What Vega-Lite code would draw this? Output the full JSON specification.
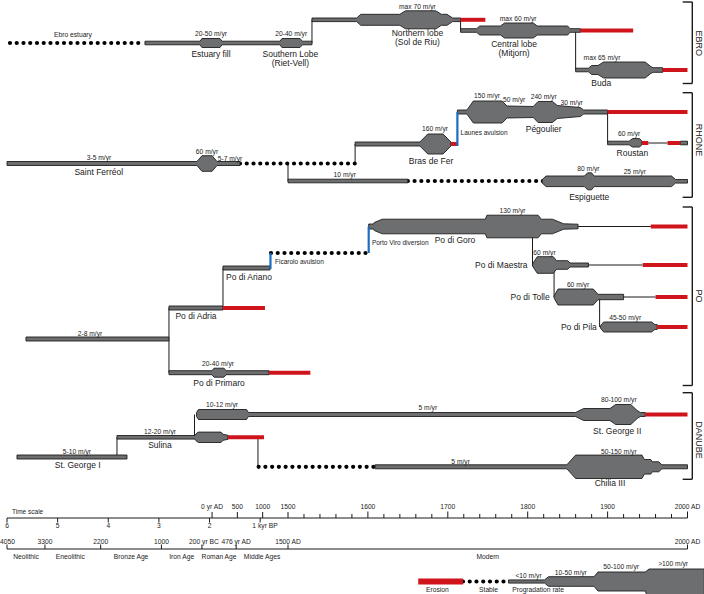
{
"$schema": "https://vega.github.io/schema/vega-lite/v6.json",
"width": 704, "height": 594, "padding": 0, "autosize": {"type": "none"},
"background": "#ffffff",
"config": {"view": {"stroke": null}, "text": {"font": "Liberation Sans", "color": "#1a1a1a"}},
"datasets": {
"vlines": [
{"yr":1530,"y":20,"y2":43},{"yr":1716,"y":20,"y2":30.5},{"yr":1860,"y":30.5,"y2":70},
{"yr":1500,"y":163.5,"y2":181},{"yr":1584,"y":144,"y2":163.5},{"yr":1900,"y":112,"y2":143},
{"yr":-851,"y":308,"y2":372.7},{"yr":216,"y":268,"y2":308},{"yr":1806,"y":226.5,"y2":265},{"yr":1833,"y":265,"y2":297},{"yr":1890,"y":297,"y2":327},
{"yr":-1878,"y":437.3,"y2":457},{"yr":-347,"y":414.5,"y2":437.3},{"yr":907,"y":437.3,"y2":466.8},
{"yr":0,"y":512,"y2":518},{"yr":500,"y":512,"y2":518},{"yr":1000,"y":512,"y2":518},{"yr":1500,"y":512,"y2":518},{"yr":1600,"y":511.5,"y2":518},{"yr":1700,"y":511.5,"y2":518},{"yr":1800,"y":511.5,"y2":518},{"yr":1900,"y":511.5,"y2":518},{"yr":2000,"y":511.5,"y2":518},
{"yr":1520,"y":514,"y2":518},{"yr":1540,"y":514,"y2":518},{"yr":1560,"y":514,"y2":518},{"yr":1580,"y":514,"y2":518},{"yr":1620,"y":514,"y2":518},{"yr":1640,"y":514,"y2":518},{"yr":1660,"y":514,"y2":518},{"yr":1680,"y":514,"y2":518},{"yr":1720,"y":514,"y2":518},{"yr":1740,"y":514,"y2":518},{"yr":1760,"y":514,"y2":518},{"yr":1780,"y":514,"y2":518},{"yr":1820,"y":514,"y2":518},{"yr":1840,"y":514,"y2":518},{"yr":1860,"y":514,"y2":518},{"yr":1880,"y":514,"y2":518},{"yr":1920,"y":514,"y2":518},{"yr":1940,"y":514,"y2":518},{"yr":1960,"y":514,"y2":518},{"yr":1980,"y":514,"y2":518},
{"yr":-4050,"y":518,"y2":522.5},{"yr":-3050,"y":518,"y2":522.5},{"yr":-2050,"y":518,"y2":522.5},{"yr":-1050,"y":518,"y2":522.5},{"yr":-50,"y":518,"y2":522.5},{"yr":950,"y":518,"y2":522.5},
{"yr":-4050,"y":544.5,"y2":549},{"yr":-3300,"y":544.5,"y2":549},{"yr":-2200,"y":544.5,"y2":549},{"yr":-1000,"y":544.5,"y2":549},{"yr":-200,"y":544.5,"y2":549},{"yr":476,"y":544.5,"y2":549},{"yr":1500,"y":544.5,"y2":549},{"yr":2000,"y":544.5,"y2":549}
],
"hlines": [
{"yr":1951,"yr2":1975,"y":143},{"yr":1863,"yr2":1954,"y":226.5},{"yr":1876,"yr2":1944,"y":265},{"yr":1920,"yr2":1960,"y":297},
{"yr":-4050,"yr2":2000,"y":518},{"yr":-4050,"yr2":2000,"y":549}
],
"brackets": [
{"yr":2006,"yr2":2006,"y":2,"y2":83.5},{"yr":1994,"yr2":2006,"y":2,"y2":2},{"yr":1994,"yr2":2006,"y":83.5,"y2":83.5},
{"yr":2006,"yr2":2006,"y":92.7,"y2":197.3},{"yr":1994,"yr2":2006,"y":92.7,"y2":92.7},{"yr":1994,"yr2":2006,"y":197.3,"y2":197.3},
{"yr":2006,"yr2":2006,"y":207,"y2":385.5},{"yr":1994,"yr2":2006,"y":207,"y2":207},{"yr":1994,"yr2":2006,"y":385.5,"y2":385.5},
{"yr":2006,"yr2":2006,"y":392.7,"y2":479.3},{"yr":1994,"yr2":2006,"y":392.7,"y2":392.7},{"yr":1994,"yr2":2006,"y":479.3,"y2":479.3}
],
"stable": [
{"yr":-3991,"yr2":-1325,"y":43},{"yr":552,"yr2":1584,"y":163.5},{"yr":1650,"yr2":1820,"y":181},{"yr":1164,"yr2":1598,"y":253},{"yr":920,"yr2":1609,"y":466.8},{"yr":1719,"yr2":1776,"y":581.5}
],
"lobes": [
{"id":"E1","yr":-1325,"y":41.2,"y2":44.8},{"id":"E1","yr":-238,"y":41.2,"y2":44.8},{"id":"E1","yr":-199,"y":38.5,"y2":47.5},{"id":"E1","yr":157,"y":38.5,"y2":47.5},{"id":"E1","yr":196,"y":41.2,"y2":44.8},{"id":"E1","yr":1342,"y":41.2,"y2":44.8},{"id":"E1","yr":1381,"y":38.5,"y2":47.5},{"id":"E1","yr":1515,"y":38.5,"y2":47.5},{"id":"E1","yr":1518,"y":41.2,"y2":44.8},{"id":"E1","yr":1530,"y":41.2,"y2":44.8},
{"id":"E2","yr":1530,"y":18,"y2":21.6},{"id":"E2","yr":1586,"y":18,"y2":21.6},{"id":"E2","yr":1591,"y":14.3,"y2":25.3},{"id":"E2","yr":1640,"y":14.3,"y2":25.3},{"id":"E2","yr":1647,"y":10.8,"y2":28.8},{"id":"E2","yr":1685,"y":10.8,"y2":28.8},{"id":"E2","yr":1692,"y":14.3,"y2":25.3},{"id":"E2","yr":1699,"y":14.3,"y2":25.3},{"id":"E2","yr":1706,"y":18,"y2":21.6},{"id":"E2","yr":1716,"y":18,"y2":21.6},
{"id":"E3","yr":1716,"y":28.7,"y2":32.3},{"id":"E3","yr":1736,"y":28.7,"y2":32.3},{"id":"E3","yr":1740,"y":26,"y2":35},{"id":"E3","yr":1766,"y":26,"y2":35},{"id":"E3","yr":1771,"y":23,"y2":38},{"id":"E3","yr":1807,"y":23,"y2":38},{"id":"E3","yr":1812,"y":26,"y2":35},{"id":"E3","yr":1850,"y":26,"y2":35},{"id":"E3","yr":1853,"y":28.7,"y2":32.3},{"id":"E3","yr":1866,"y":28.7,"y2":32.3},
{"id":"E4","yr":1860,"y":68.2,"y2":71.8},{"id":"E4","yr":1876,"y":68.2,"y2":71.8},{"id":"E4","yr":1880,"y":65.5,"y2":74.5},{"id":"E4","yr":1888,"y":65.5,"y2":74.5},{"id":"E4","yr":1895,"y":62,"y2":78},{"id":"E4","yr":1947,"y":62,"y2":78},{"id":"E4","yr":1954,"y":66.5,"y2":73.5},{"id":"E4","yr":1957,"y":67.7,"y2":72.3},{"id":"E4","yr":1969,"y":67.7,"y2":72.3},
{"id":"R1","yr":-4050,"y":161.5,"y2":165.5},{"id":"R1","yr":-298,"y":161.5,"y2":165.5},{"id":"R1","yr":-199,"y":155.7,"y2":171.3},{"id":"R1","yr":0,"y":155.7,"y2":171.3},{"id":"R1","yr":98,"y":161.5,"y2":165.5},{"id":"R1","yr":552,"y":161.5,"y2":165.5},
{"id":"R2","yr":1500,"y":179.2,"y2":182.8},{"id":"R2","yr":1650,"y":179.2,"y2":182.8},
{"id":"R2b","yr":1818,"y":179.7,"y2":182.9},{"id":"R2b","yr":1823,"y":176,"y2":186.6},{"id":"R2b","yr":1871,"y":176,"y2":186.6},{"id":"R2b","yr":1875,"y":172.8,"y2":189.8},{"id":"R2b","yr":1880,"y":172.8,"y2":189.8},{"id":"R2b","yr":1883,"y":176,"y2":186.6},{"id":"R2b","yr":1980,"y":176,"y2":186.6},{"id":"R2b","yr":1985,"y":179.5,"y2":183.1},{"id":"R2b","yr":2000,"y":179.5,"y2":183.1},
{"id":"R3","yr":1584,"y":142,"y2":146},{"id":"R3","yr":1665,"y":142,"y2":146},{"id":"R3","yr":1675,"y":134,"y2":154},{"id":"R3","yr":1694,"y":134,"y2":154},{"id":"R3","yr":1704,"y":142,"y2":146},
{"id":"R4","yr":1712,"y":110,"y2":114},{"id":"R4","yr":1724,"y":110,"y2":114},{"id":"R4","yr":1732,"y":101,"y2":123},{"id":"R4","yr":1768,"y":101,"y2":123},{"id":"R4","yr":1774,"y":106,"y2":118},{"id":"R4","yr":1807,"y":106.5,"y2":117.5},{"id":"R4","yr":1813,"y":101.5,"y2":122.5},{"id":"R4","yr":1831,"y":101.5,"y2":122.5},{"id":"R4","yr":1837,"y":105.5,"y2":118.5},{"id":"R4","yr":1866,"y":107.5,"y2":116.5},{"id":"R4","yr":1870,"y":110,"y2":114},{"id":"R4","yr":1900,"y":110,"y2":114},
{"id":"R5","yr":1900,"y":141.2,"y2":144.8},{"id":"R5","yr":1927,"y":141.2,"y2":144.8},{"id":"R5","yr":1931,"y":138.6,"y2":147},{"id":"R5","yr":1940,"y":138.6,"y2":147},{"id":"R5","yr":1943,"y":141.2,"y2":144.8},
{"id":"R5b","yr":1991,"y":141.2,"y2":144.8},{"id":"R5b","yr":2000,"y":141.2,"y2":144.8},
{"id":"P1","yr":-3675,"y":337,"y2":341},{"id":"P1","yr":-851,"y":337,"y2":341},
{"id":"P2","yr":-851,"y":306,"y2":310},{"id":"P2","yr":216,"y":306,"y2":310},
{"id":"P3","yr":216,"y":266,"y2":270},{"id":"P3","yr":1144,"y":266,"y2":270},
{"id":"P4","yr":-851,"y":370.7,"y2":374.7},{"id":"P4","yr":0,"y":370.7,"y2":374.7},{"id":"P4","yr":39,"y":368.2,"y2":377.2},{"id":"P4","yr":236,"y":368.2,"y2":377.2},{"id":"P4","yr":275,"y":370.7,"y2":374.7},{"id":"P4","yr":1124,"y":370.7,"y2":374.7},
{"id":"P5","yr":1601,"y":224,"y2":229},{"id":"P5","yr":1607,"y":224,"y2":229},{"id":"P5","yr":1608,"y":222.5,"y2":230.5},{"id":"P5","yr":1618,"y":219.2,"y2":233.8},{"id":"P5","yr":1747,"y":219.2,"y2":233.8},{"id":"P5","yr":1749,"y":215.2,"y2":237.8},{"id":"P5","yr":1813,"y":215.2,"y2":237.8},{"id":"P5","yr":1817,"y":219.2,"y2":233.8},{"id":"P5","yr":1831,"y":219.2,"y2":233.8},{"id":"P5","yr":1845,"y":223.8,"y2":229.2},{"id":"P5","yr":1863,"y":224.2,"y2":228.8},
{"id":"P6","yr":1806,"y":264,"y2":266},{"id":"P6","yr":1812,"y":256.7,"y2":273.3},{"id":"P6","yr":1832,"y":256.7,"y2":273.3},{"id":"P6","yr":1836,"y":260.7,"y2":269.3},{"id":"P6","yr":1850,"y":260.7,"y2":269.3},{"id":"P6","yr":1853,"y":263,"y2":267},{"id":"P6","yr":1876,"y":263,"y2":267},
{"id":"P7","yr":1833,"y":296,"y2":298},{"id":"P7","yr":1838,"y":289,"y2":305},{"id":"P7","yr":1882,"y":289,"y2":305},{"id":"P7","yr":1888,"y":294.3,"y2":299.7},{"id":"P7","yr":1920,"y":294.3,"y2":299.7},
{"id":"P8","yr":1891,"y":326,"y2":328},{"id":"P8","yr":1895,"y":322,"y2":332},{"id":"P8","yr":1955,"y":322,"y2":332},{"id":"P8","yr":1959,"y":324.5,"y2":329.5},{"id":"P8","yr":1962,"y":324.5,"y2":329.5},
{"id":"D1","yr":-3853,"y":455,"y2":459},{"id":"D1","yr":-1680,"y":455,"y2":459},
{"id":"D2","yr":-1878,"y":435.5,"y2":439.1},{"id":"D2","yr":-337,"y":435.5,"y2":439.1},{"id":"D2","yr":-307,"y":433.3,"y2":441.3},{"id":"D2","yr":-268,"y":432.1,"y2":442.5},{"id":"D2","yr":177,"y":432.1,"y2":442.5},{"id":"D2","yr":216,"y":434.3,"y2":440.3},{"id":"D2","yr":315,"y":435.3,"y2":439.3},
{"id":"D3","yr":-307,"y":412.5,"y2":416.5},{"id":"D3","yr":-268,"y":409.5,"y2":419.5},{"id":"D3","yr":680,"y":409.5,"y2":419.5},{"id":"D3","yr":720,"y":412.5,"y2":416.5},{"id":"D3","yr":1860,"y":412.5,"y2":416.5},{"id":"D3","yr":1870,"y":408.5,"y2":420.5},{"id":"D3","yr":1903,"y":408.5,"y2":420.5},{"id":"D3","yr":1910,"y":404.5,"y2":424.5},{"id":"D3","yr":1929,"y":404.5,"y2":424.5},{"id":"D3","yr":1937,"y":410.5,"y2":418.5},{"id":"D3","yr":1941,"y":412.5,"y2":416.5},{"id":"D3","yr":1947,"y":412.5,"y2":416.5},
{"id":"D4","yr":1609,"y":464.8,"y2":468.8},{"id":"D4","yr":1849,"y":464.8,"y2":468.8},{"id":"D4","yr":1860,"y":455.1,"y2":478.5},{"id":"D4","yr":1943,"y":455.1,"y2":478.5},{"id":"D4","yr":1946,"y":459.5,"y2":474.1},{"id":"D4","yr":1954,"y":459.5,"y2":474.1},{"id":"D4","yr":1956,"y":461.8,"y2":471.8},{"id":"D4","yr":1964,"y":461.8,"y2":471.8},{"id":"D4","yr":1968,"y":464.8,"y2":468.8},{"id":"D4","yr":2000,"y":464.8,"y2":468.8},
{"id":"LG","yr":1776,"y":579.9,"y2":583.1},{"id":"LG","yr":1821,"y":579.9,"y2":583.1},{"id":"LG","yr":1826,"y":576.7,"y2":586.3},{"id":"LG","yr":1883,"y":576.7,"y2":586.3},{"id":"LG","yr":1888,"y":572,"y2":591},{"id":"LG","yr":1947,"y":572,"y2":591},{"id":"LG","yr":1952,"y":569,"y2":600},{"id":"LG","yr":2021,"y":569,"y2":600}
],
"erosion": [
{"yr":1716,"yr2":1747,"y":19.8},{"yr":1866,"yr2":1932,"y":30.5},{"yr":1969,"yr2":2000,"y":70},
{"yr":1704,"yr2":1712,"y":144},{"yr":1900,"yr2":2000,"y":112},{"yr":1943,"yr2":1951,"y":143},{"yr":1975,"yr2":1991,"y":143},
{"yr":216,"yr2":1045,"y":308},{"yr":1124,"yr2":1528,"y":372.7},{"yr":1954,"yr2":2000,"y":226.5},{"yr":1944,"yr2":2000,"y":265},{"yr":1960,"yr2":2000,"y":297},{"yr":1962,"yr2":2000,"y":327},
{"yr":315,"yr2":1026,"y":437.3},{"yr":1947,"yr2":2000,"y":414.5}
],
"legend_erosion": [{"yr":1663,"yr2":1719,"y":581.5}],
"avulsion": [
{"yr":1712,"y":112,"y2":146},{"yr":1154,"y":253,"y2":269},{"yr":1601,"y":226.5,"y2":253}
],
"small": [
{"t":"Ebro estuary","yr":-2747,"y":35},{"t":"20-50 m/yr","yr":-21,"y":34},{"t":"20-40 m/yr","yr":1504,"y":34},{"t":"max 70 m/yr","yr":1662,"y":6.5},{"t":"max 60 m/yr","yr":1788,"y":19},{"t":"max 65 m/yr","yr":1893,"y":58},
{"t":"3-5 m/yr","yr":-2233,"y":158.3},{"t":"60 m/yr","yr":-100,"y":152.3},{"t":"5-7 m/yr","yr":354,"y":159},{"t":"10 m/yr","yr":1571,"y":175},{"t":"160 m/yr","yr":1684,"y":129.3},{"t":"150 m/yr","yr":1749,"y":96},{"t":"50 m/yr","yr":1783,"y":100},{"t":"240 m/yr","yr":1820,"y":96.5},{"t":"30 m/yr","yr":1855,"y":103},{"t":"60 m/yr","yr":1927,"y":134},{"t":"80 m/yr","yr":1876,"y":169},{"t":"25 m/yr","yr":1934,"y":172},
{"t":"2-8 m/yr","yr":-2411,"y":334},{"t":"20-40 m/yr","yr":117,"y":364},{"t":"130 m/yr","yr":1781,"y":210.5},{"t":"60 m/yr","yr":1821,"y":253},{"t":"60 m/yr","yr":1863,"y":285},{"t":"45-50 m/yr","yr":1922,"y":318},
{"t":"5-10 m/yr","yr":-2668,"y":452},{"t":"12-20 m/yr","yr":-1028,"y":432},{"t":"10-12 m/yr","yr":196,"y":405},{"t":"5 m/yr","yr":1675,"y":408},{"t":"80-100 m/yr","yr":1914,"y":400},{"t":"5 m/yr","yr":1716,"y":462},{"t":"50-150 m/yr","yr":1914,"y":452},
{"t":"0 yr AD","yr":0,"y":506.5},{"t":"500","yr":500,"y":506.5},{"t":"1000","yr":1000,"y":506.5},{"t":"1500","yr":1500,"y":506.5},{"t":"1600","yr":1600,"y":506.5},{"t":"1700","yr":1700,"y":506.5},{"t":"1800","yr":1800,"y":506.5},{"t":"1900","yr":1900,"y":506.5},{"t":"2000 AD","yr":2000,"y":506.5},
{"t":"6","yr":-4050,"y":525.5},{"t":"5","yr":-3050,"y":525.5},{"t":"4","yr":-2050,"y":525.5},{"t":"3","yr":-1050,"y":525.5},{"t":"2","yr":-50,"y":525.5},{"t":"1 kyr BP","yr":1046,"y":525.5},
{"t":"4050","yr":-4040,"y":541.5},{"t":"3300","yr":-3300,"y":541.5},{"t":"2200","yr":-2200,"y":541.5},{"t":"1000","yr":-1000,"y":541.5},{"t":"200 yr BC","yr":-160,"y":541.5},{"t":"476 yr AD","yr":476,"y":541.5},{"t":"1500 AD","yr":1500,"y":541.5},{"t":"2000 AD","yr":2000,"y":541.5},
{"t":"Neolithic","yr":-3675,"y":556.5},{"t":"Eneolithic","yr":-2800,"y":556.5},{"t":"Bronze Age","yr":-1600,"y":556.5},{"t":"Iron Age","yr":-600,"y":556.5},{"t":"Roman Age","yr":138,"y":556.5},{"t":"Middle Ages","yr":988,"y":556.5},{"t":"Modern","yr":1750,"y":556.5},
{"t":"<10 m/yr","yr":1801,"y":575.5},{"t":"10-50 m/yr","yr":1854,"y":572.5},{"t":"50-100 m/yr","yr":1917,"y":567},{"t":">100 m/yr","yr":1982,"y":563.5},
{"t":"Erosion","yr":1687,"y":590},{"t":"Stable","yr":1751,"y":590},{"t":"Progradation rate","yr":1813,"y":590}
],
"notes": [
{"t":"Launes avulsion","yr":1716,"y":133},{"t":"Ficarolo avulsion","yr":1243,"y":262},{"t":"Porto Viro diversion","yr":1605,"y":243},{"t":"Time scale","yr":-3951,"y":512}
],
"names": [
{"t":"Estuary fill","yr":-21,"y":54},{"t":"Southern Lobe","yr":1503,"y":53.8},{"t":"(Riet-Vell)","yr":1503,"y":63.2},{"t":"Northern lobe","yr":1662,"y":32.9},{"t":"(Sol de Riu)","yr":1662,"y":42.2},{"t":"Central lobe","yr":1783,"y":43.9},{"t":"(Mitjorn)","yr":1783,"y":53.2},{"t":"Buda","yr":1892,"y":82.7},
{"t":"Saint Ferréol","yr":-2238,"y":171.7},{"t":"Bras de Fer","yr":1679,"y":160.7},{"t":"Pégoulier","yr":1820,"y":129.3},{"t":"Roustan","yr":1931,"y":153.3},{"t":"Espiguette","yr":1877,"y":196.7},
{"t":"Po di Adria","yr":-317,"y":316},{"t":"Po di Ariano","yr":730,"y":276.7},{"t":"Po di Primaro","yr":137,"y":383.3},{"t":"Po di Goro","yr":1709,"y":240},{"t":"Po di Maestra","yr":1767,"y":265},{"t":"Po di Tolle","yr":1803,"y":297.3},{"t":"Po di Pila","yr":1864,"y":327.3},
{"t":"St. George I","yr":-2654,"y":465},{"t":"Sulina","yr":-1028,"y":445},{"t":"St. George II","yr":1912,"y":430.7},{"t":"Chilia III","yr":1903,"y":483.3}
],
"regions": [
{"t":"EBRO","yr":2014.5,"y":43.3},{"t":"RHONE","yr":2014.5,"y":140},{"t":"PO","yr":2014.5,"y":296},{"t":"DANUBE","yr":2014.5,"y":440}
]
},
"encoding": {
"x": {"field": "yr", "type": "quantitative", "axis": null, "scale": {"domain": [-4050, 1500, 2000], "range": [7, 288, 687.5], "nice": false, "zero": false}},
"y": {"field": "y", "type": "quantitative", "axis": null, "stack": null, "scale": {"domain": [0, 594], "range": [0, 594], "nice": false, "zero": false}}
},
"layer": [
{"data": {"name": "vlines"}, "mark": {"type": "rule", "color": "#1a1a1a", "strokeWidth": 1}, "encoding": {"y2": {"field": "y2"}}},
{"data": {"name": "hlines"}, "mark": {"type": "rule", "color": "#1a1a1a", "strokeWidth": 1}, "encoding": {"x2": {"field": "yr2"}}},
{"data": {"name": "brackets"}, "mark": {"type": "rule", "color": "#1a1a1a", "strokeWidth": 1.4}, "encoding": {"x2": {"field": "yr2"}, "y2": {"field": "y2"}}},
{"data": {"name": "stable"}, "mark": {"type": "rule", "color": "#000000", "strokeWidth": 4.2, "strokeDash": [0, 6.75], "strokeCap": "round"}, "encoding": {"x2": {"field": "yr2"}}},
{"data": {"name": "lobes"}, "mark": {"type": "area", "orient": "vertical", "fill": "#6d6e70", "fillOpacity": 1, "stroke": "#1e1e1e", "strokeWidth": 0.9}, "encoding": {"y2": {"field": "y2"}, "detail": {"field": "id", "type": "nominal"}}},
{"data": {"name": "erosion"}, "mark": {"type": "rule", "color": "#d0141c", "strokeWidth": 4}, "encoding": {"x2": {"field": "yr2"}}},
{"data": {"name": "legend_erosion"}, "mark": {"type": "rule", "color": "#d0141c", "strokeWidth": 6}, "encoding": {"x2": {"field": "yr2"}}},
{"data": {"name": "avulsion"}, "mark": {"type": "rule", "color": "#1c6cc0", "strokeWidth": 2.2}, "encoding": {"y2": {"field": "y2"}}},
{"data": {"name": "small"}, "mark": {"type": "text", "fontSize": 6.7, "align": "center", "baseline": "middle"}, "encoding": {"text": {"field": "t"}}},
{"data": {"name": "notes"}, "mark": {"type": "text", "fontSize": 6.5, "align": "left", "baseline": "middle"}, "encoding": {"text": {"field": "t"}}},
{"data": {"name": "names"}, "mark": {"type": "text", "fontSize": 8.5, "align": "center", "baseline": "middle"}, "encoding": {"text": {"field": "t"}}},
{"data": {"name": "regions"}, "mark": {"type": "text", "fontSize": 9, "align": "center", "baseline": "middle", "angle": 90}, "encoding": {"text": {"field": "t"}}}
]
}
